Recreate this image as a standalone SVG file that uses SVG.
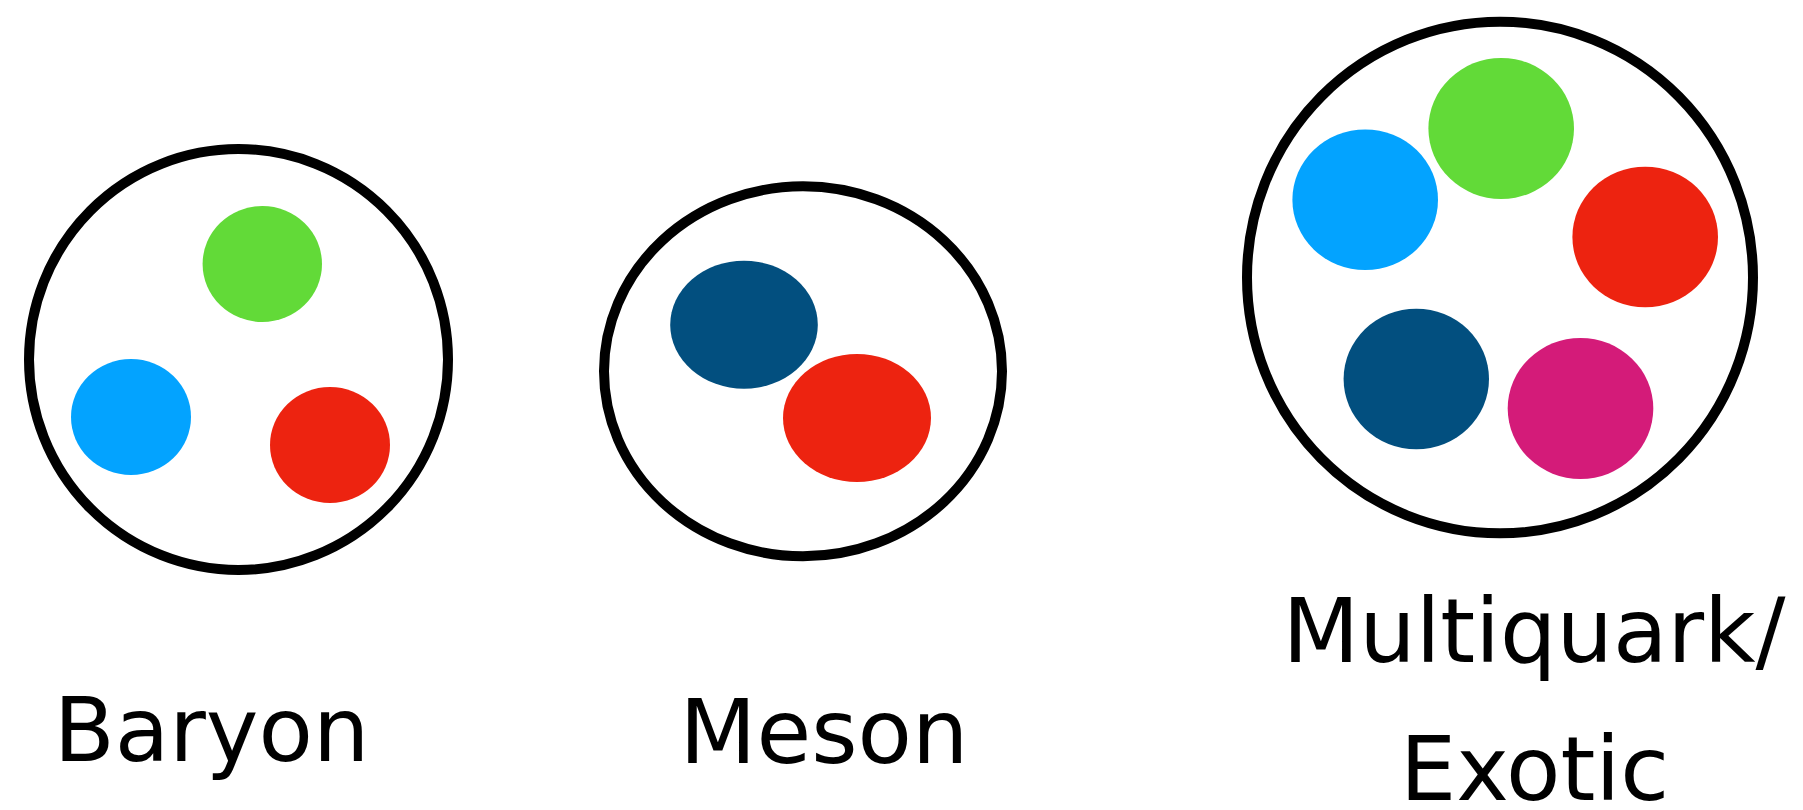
<svg xmlns="http://www.w3.org/2000/svg" width="1803" height="810" viewBox="0 0 1803 810">
<style>
.shell{fill:#ffffff;stroke:#000000;stroke-width:10}
.g{fill:#62DA38}.b{fill:#03A3FF}.r{fill:#ED2310}.n{fill:#024F7F}.m{fill:#D41B79}
.lbl{font-family:"DejaVu Sans","Noto Sans","Liberation Sans",sans-serif;font-size:89px;fill:#000000;text-anchor:middle}
</style>
<rect width="1803" height="810" fill="#ffffff"/>
<g id="baryon">
<ellipse class="shell" cx="238.5" cy="359.5" rx="209.5" ry="210.5"/>
<ellipse class="g" cx="262.3" cy="264" rx="59.7" ry="58"/>
<ellipse class="b" cx="131" cy="417" rx="60" ry="58"/>
<ellipse class="r" cx="330" cy="445" rx="60" ry="58"/>
<text class="lbl" x="211.5" y="761">Baryon</text>
</g>
<g id="meson">
<ellipse class="shell" cx="803" cy="371.3" rx="199" ry="185"/>
<ellipse class="n" cx="744" cy="324.7" rx="73.8" ry="64"/>
<ellipse class="r" cx="857" cy="418" rx="74" ry="64"/>
<text class="lbl" x="824" y="763">Meson</text>
</g>
<g id="multiquark">
<ellipse class="shell" cx="1500" cy="277.5" rx="253" ry="255.8"/>
<ellipse class="g" cx="1501.2" cy="128.5" rx="72.8" ry="70.5"/>
<ellipse class="b" cx="1365.2" cy="199.7" rx="72.8" ry="70.3"/>
<ellipse class="r" cx="1645.2" cy="237" rx="72.8" ry="70.3"/>
<ellipse class="n" cx="1416.3" cy="379" rx="72.7" ry="70.3"/>
<ellipse class="m" cx="1580.5" cy="408.5" rx="72.8" ry="70.5"/>
<text class="lbl" x="1534" y="662">Multiquark/</text>
<text class="lbl" x="1534.5" y="800">Exotic</text>
</g>
<g id="connectors"/>
</svg>
